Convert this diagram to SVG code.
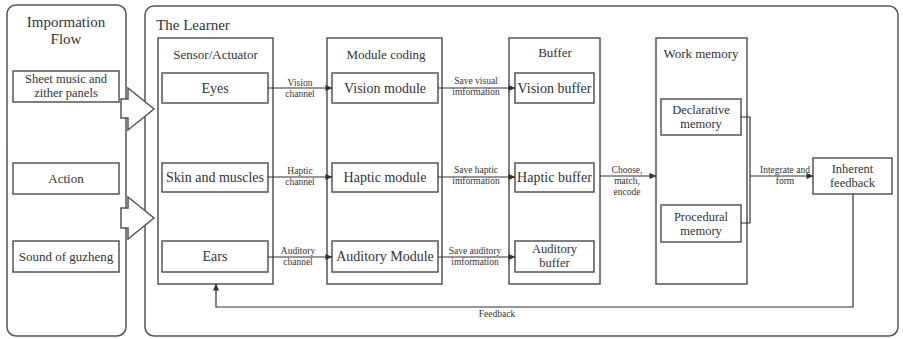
<svg xmlns="http://www.w3.org/2000/svg" width="903" height="339" viewBox="0 0 903 339" font-family="'Liberation Serif', 'DejaVu Serif', serif">
<defs>
<marker id="ah" viewBox="0 0 8 8" refX="7.5" refY="4" markerWidth="7" markerHeight="7" markerUnits="userSpaceOnUse" orient="auto">
<path d="M0,0.5 L8,4 L0,7.5 Z" fill="#333"/>
</marker>
<style>
.pan{fill:#fff;stroke:#555;stroke-width:1.5}
.box{fill:#fff;stroke:#555;stroke-width:1.5}
.ln{fill:none;stroke:#333;stroke-width:1.2}
text{font-family:'Liberation Serif','DejaVu Serif',serif;fill:#333;text-anchor:middle}
.t15{font-size:15px}
.t13{font-size:13px}
.t12{font-size:12.5px}
.t14{font-size:14px}
.s{font-size:9.5px}
</style>
</defs>
<rect width="903" height="339" fill="#fff"/>

<g id="info-flow">
<rect class="pan" x="7" y="5" width="119" height="331" rx="9"/>
<text class="t15" x="66" y="27">Impormation</text>
<text class="t15" x="66" y="44">Flow</text>
</g>
<g id="sheet-music">
<rect class="box" x="13" y="71" width="106" height="31"/>
<text class="t12" x="66" y="83">Sheet music and</text>
<text class="t12" x="66" y="97">zither panels</text>
</g>
<g id="action">
<rect class="box" x="13" y="163" width="106" height="31"/>
<text class="t13" x="66" y="183">Action</text>
</g>
<g id="sound">
<rect class="box" x="13" y="241" width="106" height="31"/>
<text class="t13" x="66" y="261">Sound of guzheng</text>
</g>

<g id="learner">
<rect class="pan" x="145" y="6" width="753" height="330" rx="9"/>
<text class="t15" x="193" y="30">The Learner</text>
</g>

<g id="arrow1"><polygon class="box" points="121,99 128,99 128,88 154,109 128,130 128,118 121,118"/></g>
<g id="arrow2"><polygon class="box" points="121,208 128,208 128,197 154,218 128,239 128,228 121,228"/></g>

<g id="sensor">
<rect class="box" x="158" y="38" width="115" height="246"/>
<text class="t13" x="215.5" y="59">Sensor/Actuator</text>
</g>
<g id="eyes"><rect class="box" x="162" y="73" width="106" height="30"/><text class="t14" x="215" y="93">Eyes</text></g>
<g id="skin"><rect class="box" x="162" y="163" width="106" height="29"/><text class="t14" x="215" y="182">Skin and muscles</text></g>
<g id="ears"><rect class="box" x="162" y="241" width="106" height="31"/><text class="t14" x="215" y="261">Ears</text></g>

<g id="module">
<rect class="box" x="327" y="38" width="115" height="246"/>
<text class="t13" x="386" y="59">Module coding</text>
</g>
<g id="vision-module"><rect class="box" x="332" y="73" width="106" height="30"/><text class="t14" x="385" y="93">Vision module</text></g>
<g id="haptic-module"><rect class="box" x="332" y="163" width="106" height="29"/><text class="t14" x="385" y="182">Haptic module</text></g>
<g id="auditory-module"><rect class="box" x="332" y="241" width="106" height="31"/><text class="t14" x="385" y="261">Auditory Module</text></g>

<g id="buffer">
<rect class="box" x="509" y="38" width="91" height="246"/>
<text class="t13" x="555" y="57">Buffer</text>
</g>
<g id="vision-buffer"><rect class="box" x="515" y="73" width="79" height="30"/><text class="t14" x="554.5" y="93">Vision buffer</text></g>
<g id="haptic-buffer"><rect class="box" x="515" y="163" width="79" height="29"/><text class="t14" x="554.5" y="182">Haptic buffer</text></g>
<g id="auditory-buffer"><rect class="box" x="515" y="241" width="79" height="31"/><text class="t12" x="554.5" y="253">Auditory</text><text class="t12" x="554.5" y="267">buffer</text></g>

<g id="work-memory">
<rect class="box" x="656" y="38" width="91" height="246"/>
<text class="t13" x="701" y="58">Work memory</text>
</g>
<g id="declarative"><rect class="box" x="661" y="99" width="80" height="36"/><text class="t12" x="701" y="114">Declarative</text><text class="t12" x="701" y="128">memory</text></g>
<g id="procedural"><rect class="box" x="661" y="205" width="80" height="37"/><text class="t12" x="701" y="221">Procedural</text><text class="t12" x="701" y="235">memory</text></g>

<g id="inherent"><rect class="box" x="813" y="158" width="79" height="36"/><text class="t12" x="852.5" y="173">Inherent</text><text class="t12" x="852.5" y="187">feedback</text></g>

<g id="connectors">
<line class="ln" x1="268" y1="88" x2="332" y2="88" marker-end="url(#ah)"/>
<line class="ln" x1="268" y1="177" x2="332" y2="177" marker-end="url(#ah)"/>
<line class="ln" x1="268" y1="257" x2="332" y2="257" marker-end="url(#ah)"/>
<line class="ln" x1="438" y1="88" x2="515" y2="88" marker-end="url(#ah)"/>
<line class="ln" x1="438" y1="177" x2="515" y2="177" marker-end="url(#ah)"/>
<line class="ln" x1="438" y1="257" x2="515" y2="257" marker-end="url(#ah)"/>
<line class="ln" x1="600" y1="176" x2="656" y2="176" marker-end="url(#ah)"/>
<polyline class="ln" points="741,117 750,117 750,223 741,223"/>
<line class="ln" x1="750" y1="176" x2="813" y2="176" marker-end="url(#ah)"/>
<polyline class="ln" points="853,194 853,307 216,307 216,284" marker-end="url(#ah)"/>
<text class="s" x="300" y="86">Vision</text><text class="s" x="300" y="97">channel</text>
<text class="s" x="300" y="174">Haptic</text><text class="s" x="300" y="185">channel</text>
<text class="s" x="298" y="254">Auditory</text><text class="s" x="298" y="265">channel</text>
<text class="s" x="476" y="84">Save visual</text><text class="s" x="476" y="95">imformation</text>
<text class="s" x="476" y="173">Save haptic</text><text class="s" x="476" y="184">imformation</text>
<text class="s" x="475" y="254">Save auditory</text><text class="s" x="475" y="265">imformation</text>
<text class="s" x="627" y="173">Choose,</text><text class="s" x="627" y="184">match,</text><text class="s" x="627" y="195">encode</text>
<text class="s" x="785" y="173">Integrate and</text><text class="s" x="785" y="184">form</text>
<text class="s" x="497" y="317">Feedback</text>
</g>
</svg>
